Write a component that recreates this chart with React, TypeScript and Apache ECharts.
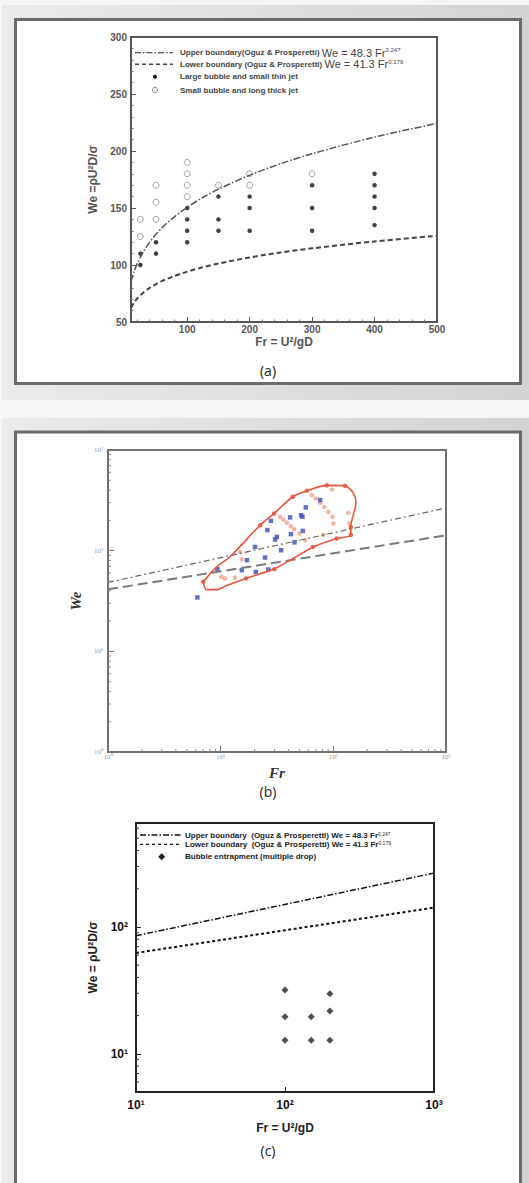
import React, { useEffect, useRef } from 'react';
import * as echarts from 'echarts';

// ---------- Panel (a): linear axes ----------
const A_CURVE_FR = [10, 15, 20, 30, 40, 50, 60, 75, 100, 125, 150, 200, 250, 300, 400, 500];
const A_UPPER_WE = [85.3, 94.3, 101.2, 111.9, 120.1, 126.9, 132.8, 140.3, 150.6, 159.2, 166.5, 178.8, 188.9, 197.6, 212.2, 224.2];
const A_LOWER_WE = [62.4, 67.1, 70.6, 75.9, 79.9, 83.2, 86.0, 89.4, 94.2, 98.0, 101.3, 106.6, 111.0, 114.6, 120.7, 125.6];
const A_LARGE_FR = [25, 25, 50, 50, 100, 100, 100, 100, 150, 150, 150, 200, 200, 200, 300, 300, 300, 400, 400, 400, 400, 400];
const A_LARGE_WE = [100, 110, 110, 120, 120, 130, 140, 150, 130, 140, 160, 130, 150, 160, 130, 150, 170, 135, 150, 160, 170, 180];
const A_SMALL_FR = [25, 25, 50, 50, 50, 100, 100, 100, 100, 150, 200, 200, 300];
const A_SMALL_WE = [125, 140, 140, 155, 170, 160, 170, 180, 190, 170, 170, 180, 180];

// ---------- Panel (b): log-log ----------
const B_LINE_FR = [1, 1000];
const B_UPPER_WE = [48.3, 265.7];
const B_LOWER_WE = [41.3, 142.1];
const B_ENV_FR = [7.0, 9.2, 12.1, 22.4, 29.8, 43.7, 58.2, 87.5, 127, 151, 159, 143, 143, 107, 66.6, 44.2, 30.0, 22.4, 16.8, 11.3, 9.2, 7.5, 7.0];
const B_ENV_WE = [49, 69, 87, 179, 234, 343, 393, 445, 440, 370, 305, 172, 143, 132, 109, 84, 66, 59, 53, 45, 41, 41, 49];
const B_RED_FR = [7.0, 22.4, 29.8, 43.7, 58.2, 87.5, 127, 143, 143, 107, 65.8, 30.0, 16.8];
const B_RED_WE = [49, 179, 234, 343, 393, 445, 440, 172, 143, 132, 109, 65.5, 53];
const B_PINK_FR = [10.1, 10.9, 13.4, 14.9, 15.4, 33.7, 36.1, 38.7, 42.0, 44.9, 50.0, 56.2, 64.4, 69.9, 76.4, 82.8, 90.4, 98.2, 100, 97, 136, 139, 81.7];
const B_PINK_WE = [54.9, 52.9, 54.2, 97, 82, 217, 204, 189, 175, 163, 148, 127, 356, 330, 299, 272, 243, 217, 186, 406, 238, 186, 143];
const B_BLUE_FR = [6.21, 9.35, 15.4, 20.5, 26.5, 17.1, 24.8, 20.2, 34.4, 30.4, 31.5, 26.0, 27.9, 41.3, 42.0, 45.2, 51.8, 53.2, 53.6, 57.0, 76.4];
const B_BLUE_WE = [34.3, 65.5, 64.0, 61.5, 65.0, 80.5, 85.5, 109, 101, 129, 137, 160, 198, 214, 146, 121, 225, 217, 157, 269, 318];
const B_MINOR = [2, 3, 4, 5, 6, 7, 8, 9, 20, 30, 40, 50, 60, 70, 80, 90, 200, 300, 400, 500, 600, 700, 800, 900];

// ---------- Panel (c): log-log ----------
const C_LINE_FR = [10, 1000];
const C_UPPER_WE = [85.3, 265.7];
const C_LOWER_WE = [62.4, 142.1];
const C_DROP_FR = [100, 100, 100, 150, 150, 200, 200, 200];
const C_DROP_WE = [31.8, 19.6, 12.8, 19.6, 12.8, 29.8, 21.8, 12.8];
const C_Y_MINOR = [6, 7, 8, 9, 20, 30, 40, 50, 60, 70, 80, 90, 200, 300, 400, 500, 600];

const zip = (a: number[], b: number[]) => a.map((v, i) => [v, b[i]]);
const SUP: Record<string, string> = { '0': '⁰', '1': '¹', '2': '²', '3': '³' };
const logLabel = (v: number) => {
  const l = Math.log10(v);
  const e = Math.round(l);
  if (Math.abs(l - e) > 1e-6) return '';
  return '10' + SUP[String(e)];
};

const SANS = '"Liberation Sans Narrow", "Arial Narrow", "Liberation Sans", Arial, sans-serif';
const ARIAL = '"Liberation Sans", Arial, sans-serif';
const SERIF = '"Liberation Serif", "Times New Roman", serif';

function tickSeries(xi: number, data: number[][], dir: 'x' | 'y', color: string, len: number) {
  return {
    type: 'custom',
    xAxisIndex: xi,
    yAxisIndex: xi,
    silent: true,
    z: 5,
    data,
    renderItem: (_p: any, api: any) => {
      const p = api.coord([api.value(0), api.value(1)]);
      return {
        type: 'line',
        shape: dir === 'x'
          ? { x1: p[0], y1: p[1], x2: p[0], y2: p[1] - len }
          : { x1: p[0], y1: p[1], x2: p[0] + len, y2: p[1] },
        style: { stroke: color, lineWidth: 1 },
      };
    },
  };
}

export default function App() {
  const ref = useRef<HTMLDivElement>(null);
  useEffect(() => {
    if (!ref.current) return;
    const chart = echarts.init(ref.current, null, { renderer: 'svg' });
    const grad = () =>
      new echarts.graphic.LinearGradient(0, 0, 1, 0, [
        { offset: 0, color: '#ebebeb' },
        { offset: 1, color: '#d3d3d3' },
      ]);
    const legText = (x: number, y: number, text: string, color: string, big: number, small: number, sup: number) => ({
      type: 'text',
      x,
      y,
      z: 20,
      silent: true,
      style: {
        text,
        fill: color,
        verticalAlign: 'middle',
        align: 'left',
        fontFamily: SANS,
        fontWeight: 'bold',
        fontSize: small,
        rich: {
          t: { fontFamily: SANS, fontWeight: 'bold', fontSize: small, fill: color },
          e: { fontFamily: ARIAL, fontWeight: 'normal', fontSize: big, fill: color },
          s: { fontFamily: ARIAL, fontWeight: 'normal', fontSize: sup, lineHeight: sup, verticalAlign: 'top', fill: color },
        },
      },
    });

    const graphic: any[] = [
      { type: 'rect', z: -10, silent: true, shape: { x: 0, y: 0, width: 529, height: 1183 }, style: { fill: '#f6f6f6' } },
      { type: 'rect', z: -9, silent: true, shape: { x: 2, y: 5, width: 527, height: 395 }, style: { fill: grad() } },
      { type: 'rect', z: -9, silent: true, shape: { x: 2, y: 418, width: 527, height: 765 }, style: { fill: grad() } },
      { type: 'rect', z: -8, silent: true, shape: { x: 15.5, y: 19.5, width: 505, height: 364 }, style: { fill: '#fff', stroke: '#6b6b6b', lineWidth: 3 } },
      { type: 'rect', z: -8, silent: true, shape: { x: 15.5, y: 432, width: 505, height: 1143.5 }, style: { fill: '#fff', stroke: '#6b6b6b', lineWidth: 3 } },
      // legend (a)
      { type: 'line', z: 20, silent: true, shape: { x1: 135, y1: 52.7, x2: 173, y2: 52.7 }, style: { stroke: '#555', lineWidth: 1.3, lineDash: [6, 2, 1.5, 2] } },
      legText(180, 52.7, '{t|Upper boundary(Oguz & Prosperetti)} {e|We = 48.3 Fr}{s|0.247}', '#444', 11, 8, 6),
      { type: 'line', z: 20, silent: true, shape: { x1: 135, y1: 64.3, x2: 173, y2: 64.3 }, style: { stroke: '#444', lineWidth: 1.5, lineDash: [4, 3] } },
      legText(180, 64.3, '{t|Lower boundary (Oguz & Prosperetti)} {e|We = 41.3 Fr}{s|0.179}', '#444', 11, 8, 6),
      { type: 'circle', z: 20, silent: true, shape: { cx: 155, cy: 76.7, r: 2 }, style: { fill: '#111' } },
      legText(180, 76.7, '{t|Large bubble and small thin jet}', '#444', 11, 8, 6),
      { type: 'circle', z: 20, silent: true, shape: { cx: 155, cy: 90, r: 2.6 }, style: { fill: '#fff', stroke: '#888', lineWidth: 1 } },
      legText(180, 90, '{t|Small bubble and long thick jet}', '#444', 11, 8, 6),
      // legend (c)
      { type: 'line', z: 20, silent: true, shape: { x1: 140, y1: 835, x2: 181.7, y2: 835 }, style: { stroke: '#111', lineWidth: 1.3, lineDash: [6, 2, 1.5, 2] } },
      legText(185, 835, '{t|Upper boundary  (Oguz & Prosperetti) We = 48.3 Fr}{s|0.247}', '#222', 8, 8, 5),
      { type: 'line', z: 20, silent: true, shape: { x1: 140, y1: 844.3, x2: 181.7, y2: 844.3 }, style: { stroke: '#111', lineWidth: 1.2, lineDash: [3, 3] } },
      legText(185, 844.3, '{t|Lower boundary  (Oguz & Prosperetti) We = 41.3 Fr}{s|0.179}', '#222', 8, 8, 5),
      { type: 'polygon', z: 20, silent: true, shape: { points: [[161.7, 853.2], [165.2, 856.7], [161.7, 860.2], [158.2, 856.7]] }, style: { fill: '#222' } },
      legText(185, 856.7, '{t|Bubble entrapment (multiple drop)}', '#222', 8, 8, 5),
      // panel captions
      { type: 'text', z: 20, silent: true, x: 268, y: 370, style: { text: '(a)', fontFamily: '"Open Sans", sans-serif', fontSize: 14, fill: '#222', align: 'center', verticalAlign: 'middle' } },
      { type: 'text', z: 20, silent: true, x: 268, y: 791.7, style: { text: '(b)', fontFamily: '"Open Sans", sans-serif', fontSize: 14, fill: '#222', align: 'center', verticalAlign: 'middle' } },
      { type: 'text', z: 20, silent: true, x: 268, y: 1150, style: { text: '(c)', fontFamily: '"Open Sans", sans-serif', fontSize: 14, fill: '#222', align: 'center', verticalAlign: 'middle' } },
    ];

    const option: any = {
      animation: false,
      graphic,
      grid: [
        { left: 131, top: 37, width: 306, height: 285, show: true, borderColor: '#555', borderWidth: 2, backgroundColor: 'transparent', outerBoundsMode: 'none' },
        { left: 108, top: 450, width: 338, height: 302, show: true, borderColor: '#707070', borderWidth: 2, backgroundColor: 'transparent', outerBoundsMode: 'none' },
        { left: 136, top: 823, width: 298, height: 269, show: true, borderColor: '#222', borderWidth: 2, backgroundColor: 'transparent', outerBoundsMode: 'none' },
      ],
      xAxis: [
        {
          gridIndex: 0, type: 'value', min: 10, max: 500,
          name: 'Fr = U²/gD', nameLocation: 'middle', nameGap: 14,
          nameTextStyle: { fontFamily: ARIAL, fontWeight: 'bold', fontSize: 12, color: '#555' },
          axisLine: { show: false }, splitLine: { show: false },
          axisTick: { inside: true, length: 5, lineStyle: { color: '#555' } },
          minorTick: { show: true, splitNumber: 5, length: 2.5, lineStyle: { color: '#777' } },
          axisLabel: { margin: 2, showMinLabel: false, fontFamily: ARIAL, fontWeight: 'bold', fontSize: 10, color: '#555' },
        },
        {
          gridIndex: 1, type: 'log', logBase: 10, min: 1, max: 1000,
          name: 'Fr', nameLocation: 'middle', nameGap: 13,
          nameTextStyle: { fontFamily: SERIF, fontWeight: 'bold', fontStyle: 'italic', fontSize: 15, color: '#333' },
          axisLine: { show: false }, splitLine: { show: false },
          axisTick: { inside: true, length: 6, lineStyle: { color: '#777' } },
          axisLabel: { margin: 1, formatter: logLabel, fontFamily: SERIF, fontSize: 7, color: '#999' },
        },
        {
          gridIndex: 2, type: 'log', logBase: 10, min: 10, max: 1000,
          name: 'Fr = U²/gD', nameLocation: 'middle', nameGap: 30,
          nameTextStyle: { fontFamily: ARIAL, fontWeight: 'bold', fontSize: 12, color: '#222' },
          axisLine: { show: false }, splitLine: { show: false },
          axisTick: { inside: true, length: 5, lineStyle: { color: '#222' } },
          axisLabel: { margin: 7, formatter: logLabel, fontFamily: ARIAL, fontWeight: 'bold', fontSize: 12, color: '#111' },
        },
      ],
      yAxis: [
        {
          gridIndex: 0, type: 'value', min: 50, max: 300, interval: 50,
          name: 'We =ρU²D/σ', nameLocation: 'middle', nameGap: 23,
          nameTextStyle: { fontFamily: ARIAL, fontWeight: 'bold', fontSize: 12, color: '#555' },
          axisLine: { show: false }, splitLine: { show: false },
          axisTick: { inside: true, length: 5, lineStyle: { color: '#555' } },
          minorTick: { show: true, splitNumber: 5, length: 2.5, lineStyle: { color: '#777' } },
          axisLabel: { margin: 4, fontFamily: ARIAL, fontWeight: 'bold', fontSize: 10, color: '#555' },
        },
        {
          gridIndex: 1, type: 'log', logBase: 10, min: 1, max: 1000,
          name: 'We', nameLocation: 'middle', nameGap: 21,
          nameTextStyle: { fontFamily: SERIF, fontWeight: 'bold', fontStyle: 'italic', fontSize: 15, color: '#333' },
          axisLine: { show: false }, splitLine: { show: false },
          axisTick: { inside: true, length: 6, lineStyle: { color: '#777' } },
          axisLabel: { margin: 5, formatter: logLabel, fontFamily: SERIF, fontSize: 7, color: '#999' },
        },
        {
          gridIndex: 2, type: 'log', logBase: 10, min: 5, max: 660,
          name: 'We = ρU²D/σ', nameLocation: 'middle', nameGap: 37,
          nameTextStyle: { fontFamily: ARIAL, fontWeight: 'bold', fontSize: 12, color: '#222' },
          axisLine: { show: false }, splitLine: { show: false },
          axisTick: { inside: true, length: 5, lineStyle: { color: '#222' } },
          axisLabel: { margin: 8, formatter: logLabel, fontFamily: ARIAL, fontWeight: 'bold', fontSize: 12, color: '#111' },
        },
      ],
      series: [
        // (a)
        { type: 'line', name: 'Upper boundary(Oguz & Prosperetti)', xAxisIndex: 0, yAxisIndex: 0, data: zip(A_CURVE_FR, A_UPPER_WE), smooth: 0.3, symbol: 'none', lineStyle: { color: '#555', width: 1.5, type: [7, 2, 1.5, 2] } },
        { type: 'line', name: 'Lower boundary (Oguz & Prosperetti)', xAxisIndex: 0, yAxisIndex: 0, data: zip(A_CURVE_FR, A_LOWER_WE), smooth: 0.3, symbol: 'none', lineStyle: { color: '#444', width: 2, type: [5, 3] } },
        { type: 'scatter', name: 'Large bubble and small thin jet', xAxisIndex: 0, yAxisIndex: 0, data: zip(A_LARGE_FR, A_LARGE_WE), symbol: 'circle', symbolSize: 4.5, itemStyle: { color: '#111' } },
        { type: 'scatter', name: 'Small bubble and long thick jet', xAxisIndex: 0, yAxisIndex: 0, data: zip(A_SMALL_FR, A_SMALL_WE), symbol: 'circle', symbolSize: 6, itemStyle: { color: '#fff', borderColor: '#888', borderWidth: 1 } },
        // (b)
        { type: 'line', name: 'b upper', xAxisIndex: 1, yAxisIndex: 1, data: zip(B_LINE_FR, B_UPPER_WE), symbol: 'none', lineStyle: { color: '#666', width: 1.2, type: [6, 3, 2, 3] } },
        { type: 'line', name: 'b lower', xAxisIndex: 1, yAxisIndex: 1, data: zip(B_LINE_FR, B_LOWER_WE), symbol: 'none', lineStyle: { color: '#7a7a7a', width: 2, type: [10, 5] } },
        { type: 'line', name: 'b envelope', xAxisIndex: 1, yAxisIndex: 1, data: zip(B_ENV_FR, B_ENV_WE), smooth: 0.3, symbol: 'none', lineStyle: { color: '#e8553f', width: 1.6 } },
        { type: 'scatter', name: 'b pink', xAxisIndex: 1, yAxisIndex: 1, data: zip(B_PINK_FR, B_PINK_WE), symbol: 'circle', symbolSize: 4.5, itemStyle: { color: '#f2a18c' } },
        { type: 'scatter', name: 'b red', xAxisIndex: 1, yAxisIndex: 1, data: zip(B_RED_FR, B_RED_WE), symbol: 'circle', symbolSize: 4.5, itemStyle: { color: '#e4432e' } },
        { type: 'scatter', name: 'b blue', xAxisIndex: 1, yAxisIndex: 1, data: zip(B_BLUE_FR, B_BLUE_WE), symbol: 'rect', symbolSize: 4.5, itemStyle: { color: '#3a4db5' } },
        tickSeries(1, B_MINOR.map((v) => [v, 1]), 'x', '#888', 3),
        tickSeries(1, B_MINOR.map((v) => [1, v]), 'y', '#888', 3),
        // (c)
        { type: 'line', name: 'c upper', xAxisIndex: 2, yAxisIndex: 2, data: zip(C_LINE_FR, C_UPPER_WE), symbol: 'none', lineStyle: { color: '#111', width: 1.5, type: [6, 2, 1.5, 2] } },
        { type: 'line', name: 'c lower', xAxisIndex: 2, yAxisIndex: 2, data: zip(C_LINE_FR, C_LOWER_WE), symbol: 'none', lineStyle: { color: '#111', width: 2, type: [3, 2.5] } },
        { type: 'scatter', name: 'Bubble entrapment (multiple drop)', xAxisIndex: 2, yAxisIndex: 2, data: zip(C_DROP_FR, C_DROP_WE), symbol: 'diamond', symbolSize: 7, itemStyle: { color: '#222' } },
        tickSeries(2, C_Y_MINOR.map((v) => [10, v]), 'y', '#333', 3),
      ],
    };
    chart.setOption(option);
    return () => chart.dispose();
  }, []);
  return <div ref={ref} style={{ position: 'absolute', left: 0, top: 0, width: 529, height: 1183 }} />;
}
